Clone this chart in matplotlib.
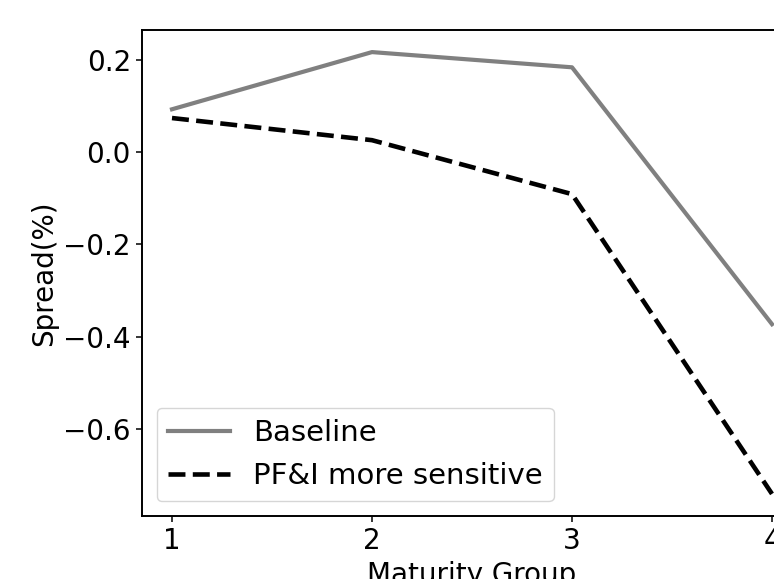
import numpy as np
import matplotlib.pyplot as plt

groups = [1, 2, 3, 4]
baseline = [0.093, 0.217, 0.184, -0.373]
sensitive = [0.074, 0.026, -0.091, -0.741]

plt.rcParams['font.size'] = 20
plt.rcParams['axes.linewidth'] = 1.4
plt.rcParams['xtick.major.size'] = 4.5
plt.rcParams['ytick.major.size'] = 4.5
plt.rcParams['xtick.major.width'] = 1.1
plt.rcParams['ytick.major.width'] = 1.1

fig = plt.figure(figsize=(7.74, 5.79), dpi=100)
# axes runs past the right edge of the saved picture
ax = fig.add_axes([142 / 774, 63 / 579, 660 / 774, 486 / 579])

ax.plot(groups, baseline, color='gray', lw=3.0, label='Baseline')
ax.plot(groups, sensitive, color='black', lw=3.3, ls='--', label='PF&I more sensitive')

ax.set_xticks(groups)
ax.set_yticks([0.2, 0.0, -0.2, -0.4, -0.6])
ax.set_xlabel('Maturity Group')
ax.set_ylabel('Spread(%)')
ax.legend(loc='lower left', fontsize=21, handlelength=2.1)

fig.savefig('out.png', dpi=100)
